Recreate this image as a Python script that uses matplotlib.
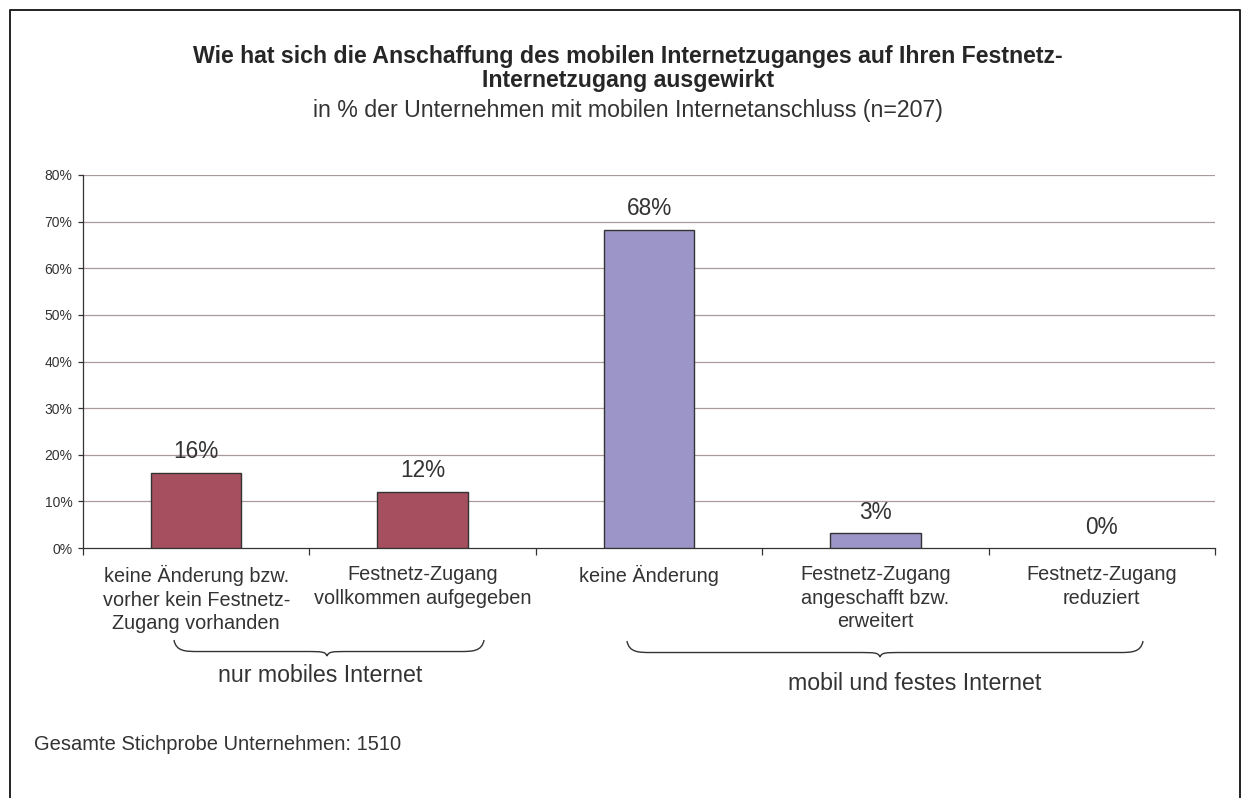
import matplotlib
matplotlib.use("Agg")
import matplotlib.pyplot as plt
from matplotlib.path import Path
from matplotlib.patches import PathPatch
import numpy as np

plt.rcParams['font.family'] = ['Liberation Sans', 'DejaVu Sans']

categories = [
    "keine Änderung bzw.\nvorher kein Festnetz-\nZugang vorhanden",
    "Festnetz-Zugang\nvollkommen aufgegeben",
    "keine Änderung",
    "Festnetz-Zugang\nangeschafft bzw.\nerweitert",
    "Festnetz-Zugang\nreduziert",
]
values = [16.1, 12.1, 68.3, 3.2, 0.0]
value_labels = ["16%", "12%", "68%", "3%", "0%"]
groups = ["nur mobiles Internet", "nur mobiles Internet",
          "mobil und festes Internet", "mobil und festes Internet",
          "mobil und festes Internet"]
yticks = [0, 10, 20, 30, 40, 50, 60, 70, 80]
ytick_labels = [f"{v}%" for v in yticks]

title_lines = ["Wie hat sich die Anschaffung des mobilen Internetzuganges auf Ihren Festnetz-",
               "Internetzugang ausgewirkt"]
subtitle = "in % der Unternehmen mit mobilen Internetanschluss (n=207)"
footnote = "Gesamte Stichprobe Unternehmen: 1510"

W, H = 1245, 798
fig = plt.figure(figsize=(W / 100, H / 100), dpi=100)
fig.patch.set_facecolor("white")

def px(x, y):
    return (x / W, 1 - y / H)

# outer border
border_x = [10 / W, 10 / W, 1240 / W, 1240 / W]
border_y = [-0.01, 1 - 10 / H, 1 - 10 / H, -0.01]
fig.add_artist(plt.Line2D(border_x, border_y, color="#222222", lw=1.4, transform=fig.transFigure))

ax = fig.add_axes([83 / W, 1 - 548 / H, (1215 - 83) / W, (548 - 175) / H])

text_col = "#333333"
colors = ["#a6505f" if g == "nur mobiles Internet" else "#9c96c8" for g in groups]
x = np.arange(len(categories))
lws = [1.0 if v > 0 else 0.0 for v in values]
ax.bar(x, values, width=0.40, color=colors, edgecolor="#333333", linewidth=lws, zorder=3)

for xi, v, lab in zip(x, values, value_labels):
    ax.annotate(lab, xy=(xi, v), xytext=(0, 21), textcoords="offset pixels",
                ha="center", va="center", fontsize=16.3, color=text_col)

ax.set_xlim(-0.5, len(categories) - 0.5)
ax.set_ylim(0, 80)
ax.set_yticks(yticks)
ax.set_yticklabels(ytick_labels, fontsize=10, color=text_col)
for yv in yticks[1:]:
    ax.axhline(yv, color="#ab9a9a", lw=0.9, zorder=1)

ax.set_xticks(np.arange(len(categories) + 1) - 0.5)
ax.set_xticklabels([])
ax.tick_params(axis="x", direction="out", length=5, color="#333333", width=0.9)
ax.tick_params(axis="y", direction="out", length=3.5, color="#333333", width=0.9, pad=4)
for s in ["top", "right"]:
    ax.spines[s].set_visible(False)
for s in ["left", "bottom"]:
    ax.spines[s].set_color("#333333")
    ax.spines[s].set_linewidth(0.9)

for xi, c in zip(x, categories):
    ax.annotate(c, xy=(xi, 0), xycoords=("data", "axes fraction"), xytext=(0, -17),
                textcoords="offset pixels", ha="center", va="top",
                fontsize=14.3, color=text_col, linespacing=1.31)

# titles
fig.text(*px(628, 57), title_lines[0], ha="center", va="center", fontsize=16.7,
         fontweight="bold", color="#262626")
fig.text(*px(628, 80), title_lines[1], ha="center", va="center", fontsize=16.7,
         fontweight="bold", color="#262626")
fig.text(*px(628, 110), subtitle, ha="center", va="center", fontsize=16.7, color=text_col)
fig.text(*px(34, 744), footnote, ha="left", va="center", fontsize=14.5, color=text_col)

# braces
def brace(xl, xr, xc, yt, d):
    ym = yt + d * 0.72
    yb = yt + d
    r = 24
    verts = [
        (xl, yt),
        (xl + 2, ym), (xl + r * 0.5, ym), (xl + r, ym),
        (xc - r, ym),
        (xc - 4, ym), (xc - 2, ym), (xc, yb),
        (xc + 2, ym), (xc + 4, ym), (xc + r, ym),
        (xr - r, ym),
        (xr - r * 0.5, ym), (xr - 2, ym), (xr, yt),
    ]
    codes = [Path.MOVETO,
             Path.CURVE4, Path.CURVE4, Path.CURVE4,
             Path.LINETO,
             Path.CURVE4, Path.CURVE4, Path.CURVE4,
             Path.CURVE4, Path.CURVE4, Path.CURVE4,
             Path.LINETO,
             Path.CURVE4, Path.CURVE4, Path.CURVE4]
    verts = [px(a, b) for a, b in verts]
    fig.add_artist(PathPatch(Path(verts, codes), facecolor="none", edgecolor="#333333",
                             lw=1.0, transform=fig.transFigure))

brace(174, 484, 327, 640, 16)
brace(627, 1143, 880, 641, 16)

fig.text(*px(320, 675), "nur mobiles Internet", ha="center", va="center", fontsize=16.7, color=text_col)
fig.text(*px(915, 684), "mobil und festes Internet", ha="center", va="center", fontsize=16.7, color=text_col)

fig.savefig("out.png", dpi=100)
